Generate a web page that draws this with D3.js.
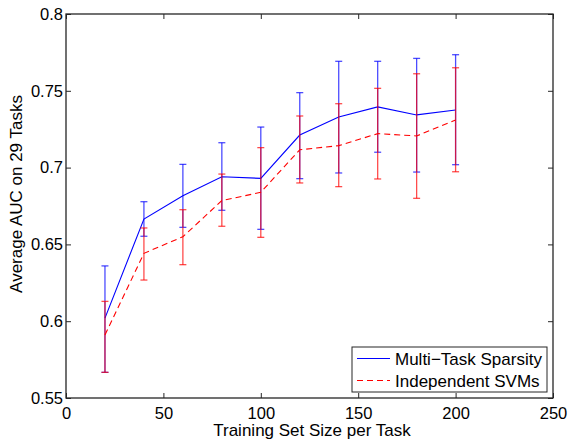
<!DOCTYPE html>
<html>
<head>
<meta charset="utf-8">
<script src="https://cdn.jsdelivr.net/npm/d3@7"></script>
<style>
  body { margin: 0; background: #fff; }
  svg text { font-family: "Liberation Sans", Arial, sans-serif; }
</style>
</head>
<body>
<div id="chart"></div>
<script>
// data
const sizes = [20, 40, 60, 80, 100, 120, 140, 160, 180, 200];

const mtsMean = [0.602, 0.6665, 0.6817, 0.694, 0.693, 0.7212, 0.733, 0.7395, 0.7343, 0.7375];
const mtsHigh = [0.636, 0.6778, 0.7021, 0.7162, 0.7264, 0.7488, 0.7692, 0.7692, 0.7711, 0.7735];
const mtsLow  = [0.5667, 0.6553, 0.6611, 0.6722, 0.6598, 0.6928, 0.6965, 0.710, 0.6971, 0.7019];

const svmMean = [0.591, 0.6442, 0.655, 0.6785, 0.6839, 0.7116, 0.7143, 0.7221, 0.7206, 0.731];
const svmHigh = [0.6129, 0.6607, 0.6726, 0.6958, 0.713, 0.7336, 0.7416, 0.7516, 0.7611, 0.765];
const svmLow  = [0.5667, 0.6268, 0.6368, 0.6618, 0.6546, 0.690, 0.6876, 0.6926, 0.680, 0.6973];

const xTicks = [0, 50, 100, 150, 200, 250];
const yTicks = [0.55, 0.6, 0.65, 0.7, 0.75, 0.8];
const seriesNames = ["Multi\u2212Task Sparsity", "Independent SVMs"];

const W = 569, H = 439;
const margin = { top: 14, right: 16, bottom: 41, left: 66 };

const svg = d3.select("#chart").append("svg")
  .attr("width", W)
  .attr("height", H);

const x = d3.scaleLinear().domain([0, 250]).range([margin.left, W - margin.right]);
const y = d3.scaleLinear().domain([0.55, 0.8]).range([H - margin.bottom, margin.top]);

const axisColor = "#262626";
const tickLen = 5;
const tickFont = 16.5;
const labelFont = 17;

// axes with inward ticks on all four sides
svg.append("g")
  .attr("transform", `translate(0,${y(0.55)})`)
  .call(d3.axisBottom(x).tickValues(xTicks).tickSize(-tickLen).tickPadding(9).tickFormat(d3.format("d")))
  .call(g => g.select(".domain").remove())
  .call(g => g.selectAll("line").attr("stroke", axisColor))
  .call(g => g.selectAll("text").attr("fill", "#000").attr("font-size", tickFont));

svg.append("g")
  .attr("transform", `translate(0,${y(0.8)})`)
  .call(d3.axisTop(x).tickValues(xTicks).tickSize(-tickLen).tickFormat(""))
  .call(g => g.select(".domain").remove())
  .call(g => g.selectAll("line").attr("stroke", axisColor));

svg.append("g")
  .attr("transform", `translate(${x(0)},0)`)
  .call(d3.axisLeft(y).tickValues(yTicks).tickSize(-tickLen).tickPadding(3).tickFormat(d => String(+d.toFixed(2))))
  .call(g => g.select(".domain").remove())
  .call(g => g.selectAll("line").attr("stroke", axisColor))
  .call(g => g.selectAll("text").attr("fill", "#000").attr("font-size", tickFont));

svg.append("g")
  .attr("transform", `translate(${x(250)},0)`)
  .call(d3.axisRight(y).tickValues(yTicks).tickSize(-tickLen).tickFormat(""))
  .call(g => g.select(".domain").remove())
  .call(g => g.selectAll("line").attr("stroke", axisColor));

// box
svg.append("rect")
  .attr("x", x(0)).attr("y", y(0.8))
  .attr("width", x(250) - x(0)).attr("height", y(0.55) - y(0.8))
  .attr("fill", "none").attr("stroke", axisColor).attr("stroke-width", 1.3);

// error bars + lines
function drawSeries(mean, lo, hi, color, dash) {
  const data = sizes.map((s, i) => ({ s, m: mean[i], lo: lo[i], hi: hi[i] }));
  const cap = 3.5;
  const eb = svg.append("g")
    .attr("stroke", color)
    .attr("stroke-width", 1.3)
    .attr("stroke-opacity", 0.7);

  eb.selectAll("line.v").data(data).enter().append("line")
    .attr("x1", d => x(d.s)).attr("x2", d => x(d.s))
    .attr("y1", d => y(d.lo)).attr("y2", d => y(d.hi));
  eb.selectAll("line.t").data(data).enter().append("line")
    .attr("x1", d => x(d.s) - cap).attr("x2", d => x(d.s) + cap)
    .attr("y1", d => y(d.hi)).attr("y2", d => y(d.hi));
  eb.selectAll("line.b").data(data).enter().append("line")
    .attr("x1", d => x(d.s) - cap).attr("x2", d => x(d.s) + cap)
    .attr("y1", d => y(d.lo)).attr("y2", d => y(d.lo));

  svg.append("path")
    .datum(data)
    .attr("fill", "none")
    .attr("stroke", color)
    .attr("stroke-width", 1.1)
    .attr("stroke-dasharray", dash)
    .attr("d", d3.line().x(d => x(d.s)).y(d => y(d.m)));
}

drawSeries(mtsMean, mtsLow, mtsHigh, "#0000ff", null);
drawSeries(svmMean, svmLow, svmHigh, "#ff0000", "6,4");

// axis labels
svg.append("text")
  .attr("x", 312).attr("y", 436)
  .attr("text-anchor", "middle").attr("font-size", labelFont)
  .text("Training Set Size per Task");

svg.append("text")
  .attr("transform", "translate(22,194) rotate(-90)")
  .attr("text-anchor", "middle").attr("font-size", labelFont)
  .text("Average AUC on 29 Tasks");

// legend
const lg = svg.append("g");
lg.append("rect")
  .attr("x", 352).attr("y", 347).attr("width", 195).attr("height", 45)
  .attr("fill", "#fff").attr("stroke", axisColor).attr("stroke-width", 1);
const lgColors = ["#0000ff", "#ff0000"];
const lgDash = [null, "6,4"];
seriesNames.forEach((name, i) => {
  const cy = 358.5 + i * 22;
  lg.append("line")
    .attr("x1", 357).attr("x2", 390).attr("y1", cy).attr("y2", cy)
    .attr("stroke", lgColors[i]).attr("stroke-width", 1.1)
    .attr("stroke-dasharray", lgDash[i]);
  lg.append("text")
    .attr("x", 395).attr("y", cy + 6)
    .attr("font-size", labelFont)
    .text(name);
});
</script>
</body>
</html>
